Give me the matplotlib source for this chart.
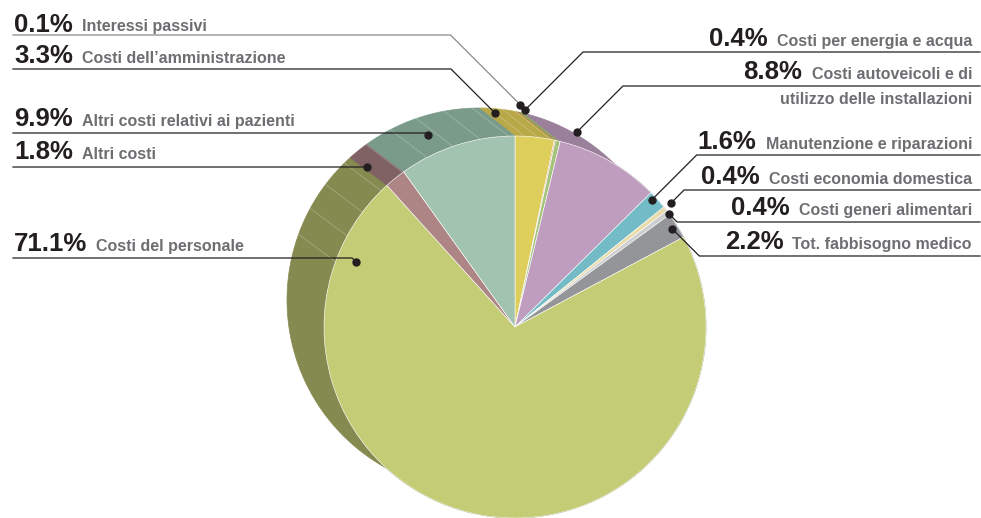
import numpy as np
import matplotlib
matplotlib.use("Agg")
import matplotlib.pyplot as plt

plt.rcParams['font.family'] = ['Liberation Sans', 'DejaVu Sans']

# Dati: voci di costo in ordine orario a partire dalle ore 12
categories = ["Costi dell’amministrazione", "Interessi passivi", "Costi per energia e acqua",
              "Costi autoveicoli e di\nutilizzo delle installazioni", "Manutenzione e riparazioni",
              "Costi economia domestica", "Costi generi alimentari", "Tot. fabbisogno medico",
              "Costi del personale", "Altri costi", "Altri costi relativi ai pazienti"]
values = [3.3, 0.1, 0.4, 8.8, 1.6, 0.4, 0.4, 2.2, 71.1, 1.8, 9.9]

face_colors = ["#dece5c", "#e08a62", "#a3c47a", "#bf9dbe", "#74bbc8", "#eadcaa",
               "#cdced0", "#939598", "#c5cc76", "#ad8584", "#a2c3b0"]
side_colors = ["#b8a848", "#c07050", "#8ea860", "#9b809b", "#5a9aa6", "#c8bc8a",
               "#a8a9ab", "#77797c", "#858a50", "#806264", "#7a9b8a"]

# posizione etichette: lato, baseline, linea, (frazione spicchio, profondita', scala raggio)
label_side = ["L", "L", "R", "R", "R", "R", "R", "R", "L", "L", "L"]
label_base = [63, 31.5, 46, 79, 149, 184, 215, 249, 251, 159, 126]
label_line = [69, 35, 52, 86, 155, 190, 222, 256, 258, 167, 133]
dot_frac = [0.05, 0.0, 1.0, 0.44, 0.3, 0.3, 0.7, 0.5, 0.9, 0.1, 0.41]
dot_depth = [0.6, 1.0, 1.0, 0.8, 0.0, 0.0, 0.0, 0.0, 0.0, 0.6, 0.5]
dot_scale = [1.03, 1.04, 1.02, 1.02, 0.98, 1.04, 1.0, 0.97, 0.9, 1.0, 1.0]

# geometria torta (pixel)
cx, cy, R = 515, 327, 191
Rb, dx, dy = 192, -36, -27


def rim(phi, t=0.0, s=1.0):
    a = np.radians(phi)
    r = (R + t * (Rb - R)) * s
    return cx + t * dx + r * np.sin(a), cy + t * dy - r * np.cos(a)


fig = plt.figure(figsize=(9.81, 5.18), dpi=100)
ax = fig.add_axes([0, 0, 1, 1])

edges = np.concatenate([[0], np.cumsum(values)]) / sum(values) * 360

# parete laterale
for i in range(len(values)):
    ph = np.linspace(edges[i], edges[i + 1], int(edges[i + 1] - edges[i]) + 3)
    fx, fy = rim(ph)
    bx, by = rim(ph[::-1], 1.0)
    ax.fill(np.r_[fx, bx], np.r_[fy, by], facecolor=side_colors[i],
            edgecolor=side_colors[i], lw=0.5, zorder=1)

# sfaccettature chiare sulla parete
for ph in np.r_[np.arange(290, 360, 8.5), np.arange(3, 12, 4)]:
    x0, y0 = rim(ph)
    x1, y1 = rim(ph, 1.0)
    ax.plot([x0, x1], [y0, y1], color="white", alpha=0.25, lw=0.6, zorder=1.5)

# faccia superiore
ax.pie(values, colors=face_colors, startangle=-90, counterclock=True,
       center=(cx, cy), radius=R,
       wedgeprops=dict(edgecolor="white", linewidth=0.4, zorder=2))

ax.set_xlim(0, 981)
ax.set_ylim(518, 0)
ax.set_aspect("equal")
ax.axis("off")

renderer = fig.canvas.get_renderer()
dark = "#231f20"
grey = "#6d6e71"
gap = 9

for i, name in enumerate(categories):
    pct = f"{values[i]:.1f}%"
    phi = edges[i] + dot_frac[i] * (edges[i + 1] - edges[i])
    px, py = rim(phi, dot_depth[i], dot_scale[i])
    ly = label_line[i]
    lines = name.split("\n")
    lc = "#8a8a8a" if values[i] == 0.1 else dark
    if label_side[i] == "L":
        t = ax.text(14, label_base[i], pct, fontsize=18.5, fontweight="bold",
                    color=dark, ha="left", va="baseline")
        w = t.get_window_extent(renderer=renderer).width
        for k, ln in enumerate(lines):
            ax.text(14 + w + gap, label_base[i] + 25 * k, ln, fontsize=11.5,
                    fontweight="bold", color=grey, ha="left", va="baseline")
        kx = px - abs(py - ly)
        ax.plot([13, kx, px], [ly, ly, py], color=lc, lw=0.9, zorder=3)
    else:
        xr = 972
        w = 0
        for k, ln in enumerate(lines):
            tn = ax.text(xr, label_base[i] + 25 * k, ln, fontsize=11.5,
                         fontweight="bold", color=grey, ha="right", va="baseline")
            if k == 0:
                w = tn.get_window_extent(renderer=renderer).width
        ax.text(xr - w - gap, label_base[i], pct, fontsize=18.5, fontweight="bold",
                color=dark, ha="right", va="baseline")
        kx = px + abs(py - ly)
        ax.plot([980, kx, px], [ly, ly, py], color=lc, lw=0.9, zorder=3)
    ax.plot(px, py, "o", color=dark, markersize=5, zorder=4)

fig.savefig("out.png", dpi=100)
